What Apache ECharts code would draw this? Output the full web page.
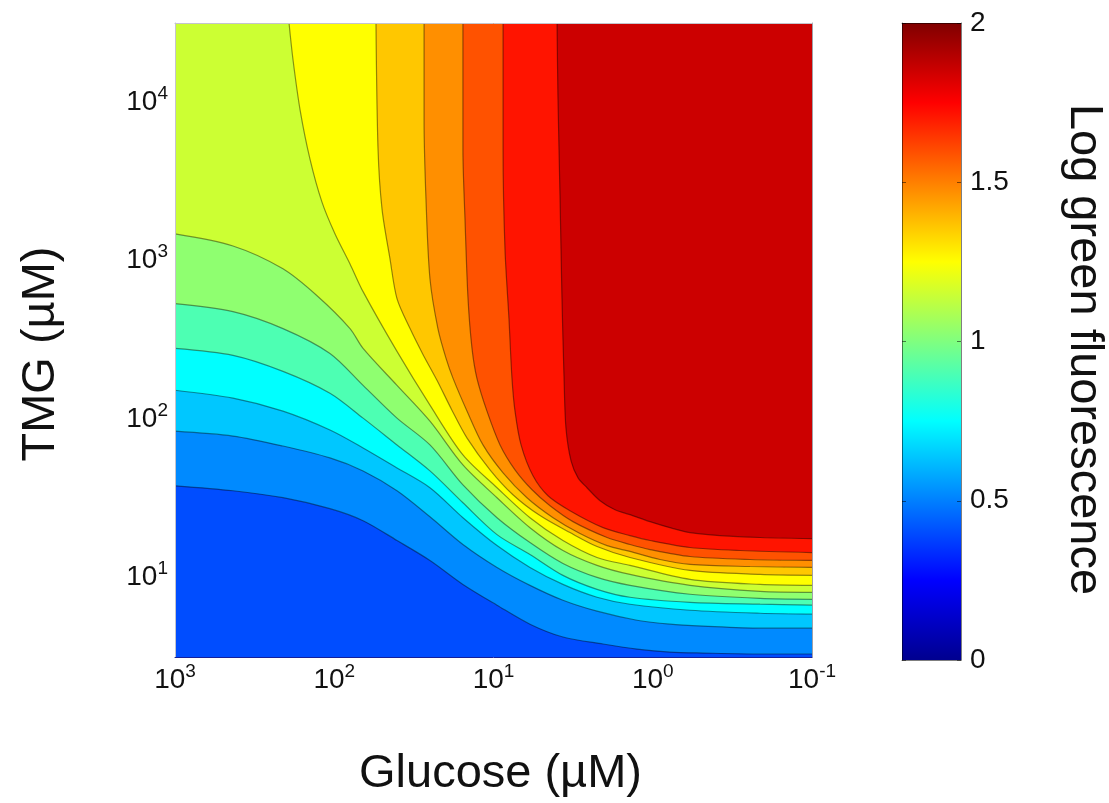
<!DOCTYPE html>
<html><head><meta charset="utf-8">
<script src="https://cdn.jsdelivr.net/npm/echarts@6/dist/echarts.min.js"></script>
<style>html,body{margin:0;padding:0;background:#fff}#c{width:1109px;height:803px}</style>
</head><body><div id="c"></div>
<script>
// ---- data ----
// axis tick exponents (labels are 10^n)
const glucoseTickExp = [3, 2, 1, 0, -1];
const tmgTickExp = [1, 2, 3, 4];
const colorbarTicks = [0, 0.5, 1, 1.5, 2];
const colorRange = [0, 2];
// fill level (log green fluorescence) of each band, lowest band first
const bandLevels = [0.40, 0.52, 0.64, 0.75, 0.90, 1.03, 1.15, 1.25, 1.36, 1.47, 1.59, 1.71, 1.85];
// contour boundaries: points as [log10 Glucose (µM), log10 TMG (µM)]
const b1 = [[3.000,1.580],[2.636,1.549],[2.322,1.505],[2.027,1.436],[1.819,1.360],[1.606,1.235],[1.399,1.109],[1.192,0.958],[0.978,0.827],[0.771,0.707],[0.564,0.626],[0.312,0.582],[0.099,0.550],[-0.108,0.531],[-0.316,0.525],[-0.674,0.519],[-1.000,0.519]];
const b2 = [[3.000,1.925],[2.636,1.894],[2.322,1.831],[2.027,1.756],[1.819,1.674],[1.606,1.549],[1.399,1.385],[1.192,1.210],[0.978,1.065],[0.771,0.952],[0.564,0.858],[0.350,0.789],[0.099,0.732],[-0.108,0.707],[-0.316,0.695],[-0.674,0.682],[-1.000,0.682]];
const b3 = [[3.000,2.183],[2.636,2.133],[2.322,2.051],[2.027,1.932],[1.819,1.819],[1.606,1.693],[1.399,1.568],[1.192,1.379],[0.978,1.203],[0.771,1.065],[0.564,0.958],[0.350,0.877],[0.143,0.833],[-0.234,0.795],[-0.674,0.776],[-1.000,0.770]];
const b4 = [[3.000,2.447],[2.636,2.403],[2.322,2.302],[2.027,2.164],[1.819,2.007],[1.606,1.838],[1.399,1.674],[1.192,1.473],[0.978,1.272],[0.771,1.147],[0.564,1.015],[0.350,0.927],[0.143,0.877],[-0.234,0.845],[-0.674,0.833],[-1.000,0.827]];
const b5 = [[3.000,2.729],[2.636,2.679],[2.322,2.572],[2.027,2.415],[1.819,2.214],[1.606,2.007],[1.399,1.838],[1.192,1.586],[0.978,1.379],[0.771,1.222],[0.564,1.090],[0.350,1.002],[0.143,0.952],[-0.234,0.896],[-0.674,0.870],[-1.000,0.864]];
const b6 = [[3.000,3.169],[2.636,3.093],[2.322,2.949],[2.108,2.779],[1.901,2.572],[1.819,2.447],[1.606,2.214],[1.399,1.988],[1.192,1.712],[0.978,1.505],[0.771,1.316],[0.564,1.172],[0.350,1.078],[0.143,1.021],[-0.234,0.952],[-0.674,0.914],[-1.000,0.908]];
const b7 = [[2.284,4.500],[2.259,4.268],[2.215,3.954],[2.152,3.640],[2.077,3.370],[1.995,3.169],[1.901,2.980],[1.819,2.805],[1.606,2.428],[1.399,2.089],[1.192,1.775],[0.978,1.568],[0.771,1.379],[0.564,1.235],[0.350,1.128],[0.143,1.078],[-0.234,0.990],[-0.674,0.958],[-1.000,0.952]];
const b8 = [[1.738,4.500],[1.725,3.702],[1.700,3.326],[1.650,3.012],[1.606,2.761],[1.524,2.572],[1.443,2.409],[1.355,2.246],[1.261,2.057],[1.166,1.881],[1.022,1.681],[0.878,1.524],[0.708,1.392],[0.520,1.285],[0.350,1.197],[0.143,1.128],[-0.234,1.046],[-0.674,1.021],[-1.000,1.015]];
const b9 = [[1.436,4.500],[1.436,3.891],[1.424,3.389],[1.399,2.886],[1.349,2.572],[1.298,2.384],[1.254,2.258],[1.166,2.051],[1.066,1.838],[0.940,1.662],[0.790,1.505],[0.626,1.379],[0.457,1.279],[0.287,1.203],[0.143,1.166],[-0.045,1.115],[-0.234,1.084],[-0.611,1.071],[-1.000,1.065]];
const b10 = [[1.192,4.500],[1.192,3.702],[1.179,3.263],[1.160,2.761],[1.135,2.447],[1.104,2.258],[1.041,2.051],[0.959,1.838],[0.865,1.681],[0.758,1.555],[0.645,1.454],[0.501,1.354],[0.287,1.254],[0.143,1.210],[0.017,1.178],[-0.234,1.134],[-0.611,1.115],[-1.000,1.109]];
const b11 = [[0.940,4.500],[0.940,3.702],[0.928,3.075],[0.903,2.635],[0.884,2.258],[0.865,2.051],[0.827,1.838],[0.752,1.643],[0.658,1.517],[0.520,1.423],[0.312,1.316],[0.143,1.266],[0.017,1.235],[-0.234,1.191],[-0.548,1.172],[-1.000,1.159]];
const b12 = [[0.601,4.500],[0.595,4.016],[0.582,3.389],[0.570,2.761],[0.557,2.258],[0.545,1.944],[0.513,1.737],[0.469,1.630],[0.413,1.568],[0.331,1.486],[0.237,1.429],[0.143,1.398],[0.017,1.354],[-0.108,1.316],[-0.234,1.285],[-0.422,1.266],[-0.674,1.254],[-1.000,1.247]];
const boundaries = [b1, b2, b3, b4, b5, b6, b7, b8, b9, b10, b11, b12];

// ---- styling ----
const FONT = "'Liberation Sans', Arial, Helvetica, sans-serif";
function jet(v) {
  const t = (v - colorRange[0]) / (colorRange[1] - colorRange[0]);
  const c = x => Math.round(255 * Math.max(0, Math.min(1, x)));
  return 'rgb(' + c(1.5 - Math.abs(4 * t - 3)) + ',' + c(1.5 - Math.abs(4 * t - 2)) + ',' + c(1.5 - Math.abs(4 * t - 1)) + ')';
}
const rich = {
  b: { fontSize: 28, fontFamily: FONT, color: '#111', lineHeight: 36 },
  s: { fontSize: 19, fontFamily: FONT, color: '#111', verticalAlign: 'top', lineHeight: 19 }
};
const powLabel = v => {
  const r = Math.round(v);
  return Math.abs(v - r) < 1e-6 ? '{b|10}{s|' + r + '}' : '';
};

const series = boundaries.map((pts, i) => ({
  type: 'line', xAxisIndex: 0, yAxisIndex: 0, data: pts,
  showSymbol: false, smooth: 0.3, silent: true, animation: false,
  lineStyle: { color: 'rgba(0,0,0,0.42)', width: 1.2 },
  areaStyle: { color: jet(bandLevels[i + 1]), opacity: 1, origin: 'end' },
  z: 2
}));
series.push({
  type: 'bar', xAxisIndex: 2, yAxisIndex: 2, data: [colorRange[1]],
  barWidth: '100%', silent: true, animation: false,
  itemStyle: {
    color: new echarts.graphic.LinearGradient(0, 1, 0, 0, [
      { offset: 0, color: '#00008f' }, { offset: 0.125, color: '#0000ff' },
      { offset: 0.375, color: '#00ffff' }, { offset: 0.625, color: '#ffff00' },
      { offset: 0.875, color: '#ff0000' }, { offset: 1, color: '#800000' }])
  }
});

const frame = c => ({ show: true, onZero: false, lineStyle: { color: c, width: 1 } });
const none = { show: false };
const titleStyle = pad => ({ fontSize: 47, fontFamily: FONT, color: '#111', padding: pad });
const chart = echarts.init(document.getElementById('c'), null, { renderer: 'canvas' });
chart.setOption({
  backgroundColor: '#fff',
  animation: false,
  grid: [
    { left: 175, top: 23, width: 637, height: 637, show: true, borderWidth: 0, backgroundColor: jet(bandLevels[0]) },
    { left: 902, top: 23, width: 59, height: 637 }
  ],
  xAxis: [
    { gridIndex: 0, type: 'value', min: glucoseTickExp[4], max: glucoseTickExp[0], interval: 1, inverse: true, z: 10,
      axisLine: frame('#14209a'), axisTick: none, splitLine: none,
      axisLabel: { formatter: powLabel, rich: rich, margin: 5, showMinLabel: true, showMaxLabel: true },
      name: 'Glucose (µM)', nameLocation: 'middle', nameGap: 94, nameTextStyle: titleStyle([0, 0, 0, 14]) },
    { gridIndex: 0, type: 'value', position: 'top', min: -1, max: 3, inverse: true, z: 10,
      axisLine: frame('#c4c4cc'), axisTick: none, axisLabel: none, splitLine: none },
    { gridIndex: 1, type: 'category', data: ['c'], z: 10,
      axisLine: frame('rgba(0,0,0,0.5)'), axisTick: none, axisLabel: none, splitLine: none },
    { gridIndex: 1, type: 'category', data: ['c'], position: 'top', z: 10,
      axisLine: frame('rgba(0,0,0,0.5)'), axisTick: none, axisLabel: none, splitLine: none }
  ],
  yAxis: [
    { gridIndex: 0, type: 'value', min: 0.5, max: 4.5, interval: 0.5, z: 10,
      axisLine: frame('#c4c4cc'), axisTick: none, splitLine: none,
      axisLabel: { formatter: powLabel, rich: rich, margin: 7 },
      name: 'TMG (µM)', nameLocation: 'middle', nameGap: 110, nameRotate: 90, nameTextStyle: titleStyle([0, 28, 0, 0]) },
    { gridIndex: 0, type: 'value', position: 'right', min: 0.5, max: 4.5, z: 10,
      axisLine: frame('#a0a0a8'), axisTick: none, axisLabel: none, splitLine: none },
    { gridIndex: 1, type: 'value', position: 'right', min: colorRange[0], max: colorRange[1], interval: 0.5, z: 10,
      axisLine: frame('rgba(0,0,0,0.5)'),
      axisTick: { show: true, inside: true, length: 4, lineStyle: { color: 'rgba(0,0,0,0.5)' } },
      splitLine: none,
      axisLabel: { fontSize: 28, fontFamily: FONT, color: '#111', margin: 9,
        formatter: v => colorbarTicks.indexOf(v) >= 0 ? String(v) : '' },
      name: 'Log green fluorescence', nameLocation: 'middle', nameGap: 99, nameRotate: -90, nameTextStyle: titleStyle([0, 0, 0, 16]) },
    { gridIndex: 1, type: 'value', position: 'left', min: colorRange[0], max: colorRange[1], interval: 0.5, z: 10,
      axisLine: frame('rgba(0,0,0,0.5)'),
      axisTick: { show: true, inside: true, length: 4, lineStyle: { color: 'rgba(0,0,0,0.5)' } },
      splitLine: none, axisLabel: none }
  ],
  series: series
});
</script></body></html>
